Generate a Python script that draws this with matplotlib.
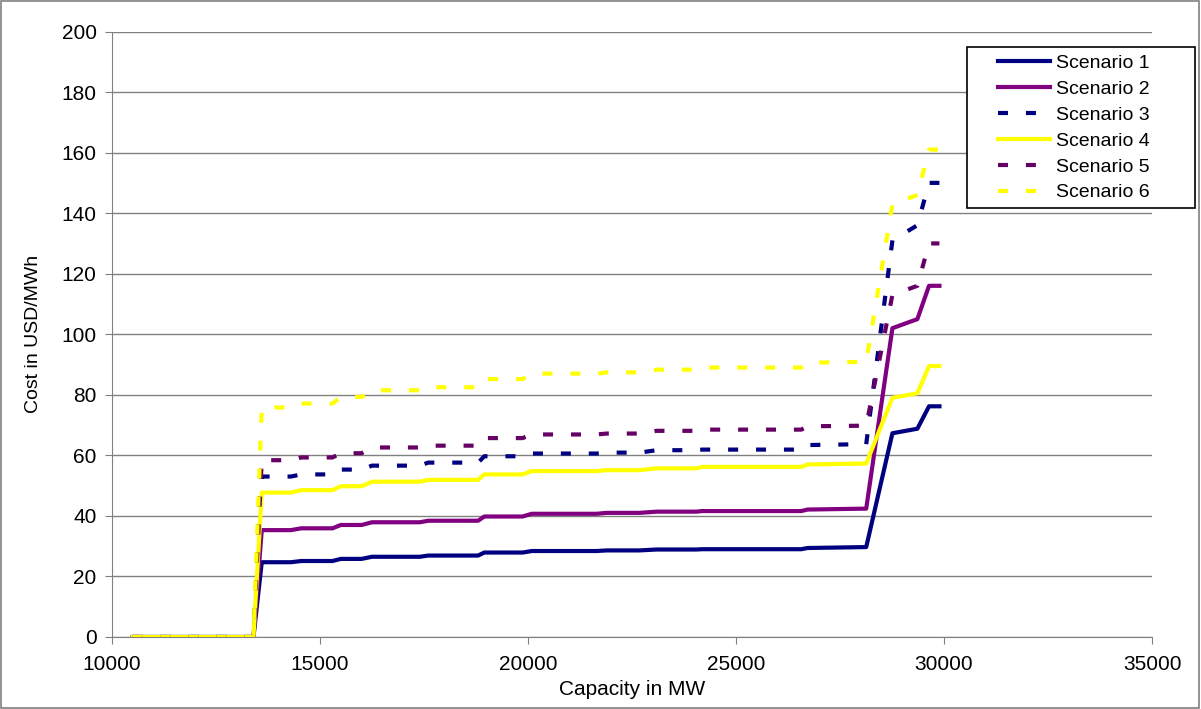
import matplotlib
matplotlib.use("Agg")
import matplotlib.pyplot as plt
from matplotlib.patches import Rectangle

# capacity break points (MW), shared by all scenarios
capacity = [10500, 13400, 13600, 14300, 14550, 15300, 15500, 16000, 16250,
            17400, 17600, 18800, 18950, 19870, 20090, 21650, 21890, 22680,
            23090, 24050, 24190, 26570, 26720, 28130, 28760, 29360, 29640, 29890]

scenario1 = [0, 0, 24.7, 24.7, 25.1, 25.1, 25.8, 25.8, 26.5, 26.5, 26.9, 26.9,
             27.9, 27.9, 28.4, 28.4, 28.6, 28.6, 28.9, 28.9, 29.0, 29.0, 29.4,
             29.7, 67.3, 68.8, 76.2, 76.2]
scenario2 = [0, 0, 35.3, 35.3, 35.9, 35.9, 37.0, 37.0, 37.9, 37.9, 38.4, 38.4,
             39.8, 39.8, 40.7, 40.7, 41.0, 41.0, 41.4, 41.4, 41.6, 41.6, 42.1,
             42.4, 102, 105, 116, 116]
scenario3 = [0, 0, 53.0, 53.0, 53.7, 53.7, 55.3, 55.3, 56.6, 56.6, 57.6, 57.6,
             59.7, 59.7, 60.6, 60.6, 60.9, 60.9, 61.7, 61.7, 61.9, 61.9, 63.4,
             63.7, 131, 136, 150, 150]
scenario4 = [0, 0, 47.7, 47.7, 48.5, 48.5, 49.8, 49.8, 51.3, 51.3, 51.9, 51.9,
             53.7, 53.7, 54.8, 54.8, 55.1, 55.1, 55.7, 55.7, 56.2, 56.2, 57.0,
             57.3, 79, 80.5, 89.5, 89.5]
scenario5 = [0, 0, 58.4, 58.4, 59.3, 59.3, 60.7, 60.7, 62.6, 62.6, 63.2, 63.2,
             65.7, 65.7, 66.9, 66.9, 67.2, 67.2, 68.1, 68.1, 68.5, 68.5, 69.6,
             69.8, 113, 116, 130, 130]
scenario6 = [0, 0, 75.8, 75.8, 77.1, 77.1, 79.3, 79.3, 81.5, 81.5, 82.5, 82.5,
             85.2, 85.2, 87.0, 87.0, 87.4, 87.4, 88.3, 88.3, 89.0, 89.0, 90.6,
             90.9, 143, 146, 161, 161]

labels = ["Scenario 1", "Scenario 2", "Scenario 3", "Scenario 4", "Scenario 5", "Scenario 6"]

plt.rcParams['font.family'] = ['Liberation Sans', 'DejaVu Sans']

W, H = 1201, 709
fig = plt.figure(figsize=(W / 100, H / 100), dpi=100)
ax = fig.add_axes([112 / W, 1 - 637 / H, (1152 - 112) / W, (637 - 31.5) / H])

# border round the whole chart
fig.patches.append(Rectangle((0.001, 0.001), 0.997, 0.997, transform=fig.transFigure,
                             fill=False, edgecolor='#808080', linewidth=1.2))

dash = (2.4, 4.3)
ax.plot(capacity, scenario1, color='#000080', lw=3, label=labels[0])
ax.plot(capacity, scenario2, color='#800080', lw=3, label=labels[1])
ax.plot(capacity, scenario3, color='#000080', lw=3, dashes=dash, dash_capstyle='butt', label=labels[2])
ax.plot(capacity, scenario4, color='#FFFF00', lw=3, label=labels[3])
ax.plot(capacity, scenario5, color='#660066', lw=3, dashes=dash, dash_capstyle='butt', label=labels[4])
ax.plot(capacity, scenario6, color='#FFFF00', lw=3, dashes=dash, dash_capstyle='butt', label=labels[5])

ax.set_xlim(10000, 35000)
ax.set_ylim(0, 200)
ax.set_xticks(range(10000, 35001, 5000))
ax.set_yticks(range(0, 201, 20))
ax.grid(axis='y', color='#808080', lw=1)
ax.set_axisbelow(True)
for s in ['top', 'right']:
    ax.spines[s].set_visible(False)
for s in ['left', 'bottom']:
    ax.spines[s].set_color('#808080')
ax.tick_params(colors='#808080', labelcolor='black', labelsize=15, length=5, direction='out')
ax.tick_params(axis='x', pad=8)
ax.tick_params(axis='y', pad=6)

ax.set_xlabel("Capacity in MW", fontsize=15, labelpad=4)
ax.set_ylabel("Cost in USD/MWh", fontsize=14, labelpad=14)

# legend box drawn by hand, Excel style padding
ax.add_patch(Rectangle((967 / W, 1 - 208 / H), (1195 - 967) / W, (208 - 47) / H,
                       transform=fig.transFigure, clip_on=False, facecolor='white',
                       edgecolor='black', linewidth=1.2, zorder=4))
leg = ax.legend(loc='upper left', bbox_to_anchor=(998 / W, 1 - 54 / H),
                bbox_transform=fig.transFigure, fontsize=14, frameon=False,
                handlelength=2.67, handletextpad=0.31, labelspacing=0.43,
                borderpad=0, borderaxespad=0)
leg.set_zorder(5)

fig.savefig("out.png", dpi=100)
